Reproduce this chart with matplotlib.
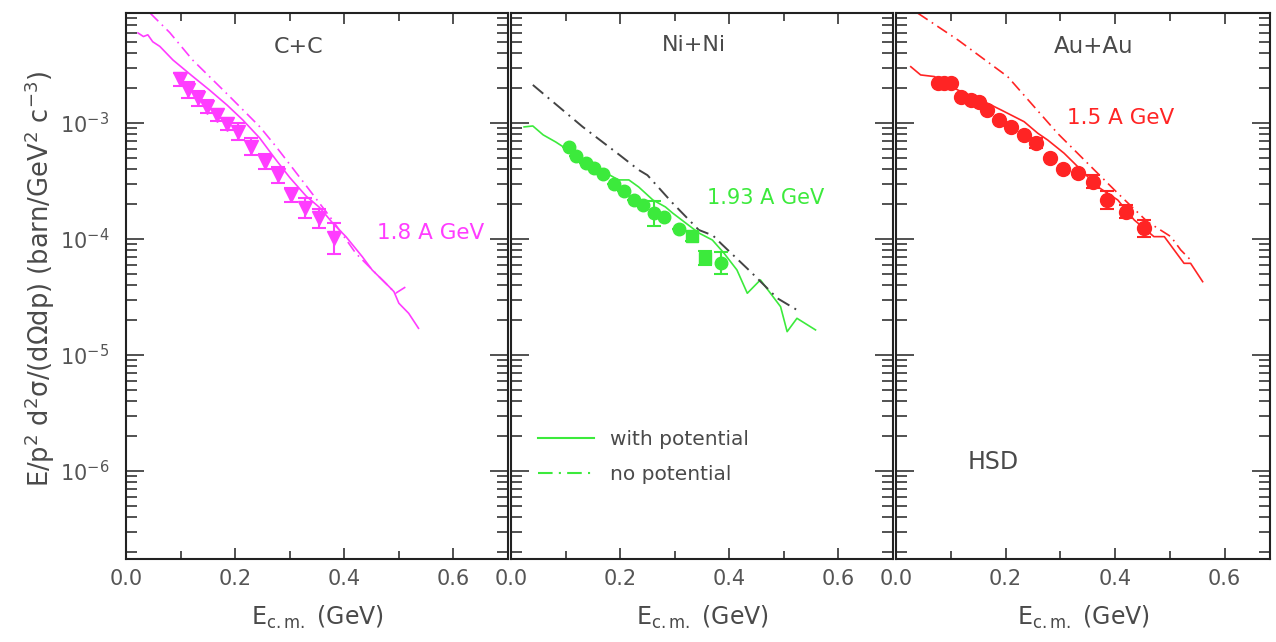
import numpy as np
import matplotlib
matplotlib.use("Agg")
import matplotlib.pyplot as plt
from matplotlib.lines import Line2D
from matplotlib.ticker import LogLocator, MultipleLocator, NullFormatter

# ---- data (log10 of cross section) ----
# C+C 1.8 A GeV
cc_x = [0.0985, 0.1137, 0.132, 0.148, 0.167, 0.185, 0.205, 0.229, 0.254, 0.279, 0.302, 0.328, 0.354, 0.381]
cc_y = [-2.623, -2.716, -2.787, -2.859, -2.931, -3.009, -3.075, -3.204, -3.333, -3.448, -3.621, -3.736, -3.822, -3.994]
cc_lo = [-2.681, -2.782, -2.853, -2.916, -2.980, -3.060, -3.147, -3.276, -3.397, -3.520, -3.678, -3.822, -3.902, -4.129]
cc_pot_x = [0.022, 0.032, 0.040, 0.049, 0.062, 0.086, 0.120, 0.153, 0.185, 0.214, 0.245, 0.275, 0.300,
            0.330, 0.355, 0.380, 0.403, 0.433, 0.451, 0.476, 0.491, 0.500, 0.518, 0.536]
cc_pot_y = [-2.224, -2.255, -2.240, -2.300, -2.340, -2.457, -2.590, -2.716, -2.845, -2.974, -3.130, -3.319, -3.470,
            -3.630, -3.730, -3.870, -3.980, -4.153, -4.267, -4.382, -4.454, -4.554, -4.641, -4.770]
cc_nopot_x = [0.044, 0.080, 0.122, 0.184, 0.245, 0.275, 0.330, 0.378, 0.421, 0.494, 0.518]
cc_nopot_y = [-2.052, -2.220, -2.457, -2.744, -3.032, -3.204, -3.540, -3.836, -4.123, -4.468, -4.397]

# Ni+Ni 1.93 A GeV
ni_x = [0.107, 0.120, 0.137, 0.152, 0.168, 0.189, 0.207, 0.225, 0.241, 0.262, 0.281, 0.308, 0.384]
ni_y = [-3.204, -3.284, -3.348, -3.391, -3.440, -3.526, -3.586, -3.664, -3.707, -3.779, -3.810, -3.916, -4.209]
ni_err = [0, 0, 0, 0, 0, 0, 0, 0, 0, 0.109, 0, 0, 0.095]
ni_sq_x = [0.332, 0.356]
ni_sq_y = [-3.974, -4.166]
ni_sq_err = [0.04, 0.06]
ni_pot_x = [0.024, 0.040, 0.059, 0.082, 0.113, 0.150, 0.174, 0.197, 0.216, 0.234, 0.260, 0.283, 0.296,
            0.320, 0.344, 0.369, 0.390, 0.414, 0.433, 0.457, 0.494, 0.506, 0.524, 0.558]
ni_pot_y = [-3.034, -3.026, -3.103, -3.164, -3.259, -3.379, -3.431, -3.491, -3.491, -3.552, -3.664, -3.724, -3.776,
            -3.862, -3.948, -4.009, -4.121, -4.267, -4.468, -4.353, -4.584, -4.799, -4.684, -4.784]
ni_nopot_x = [0.040, 0.131, 0.200, 0.234, 0.250, 0.296, 0.344, 0.370, 0.385, 0.439, 0.488, 0.524]
ni_nopot_y = [-2.672, -3.032, -3.280, -3.405, -3.450, -3.690, -3.922, -3.970, -4.040, -4.282, -4.511, -4.612]

# Au+Au 1.5 A GeV
au_x = [0.076, 0.088, 0.100, 0.119, 0.137, 0.152, 0.167, 0.189, 0.210, 0.233, 0.255, 0.282, 0.305,
        0.332, 0.359, 0.386, 0.420, 0.453]
au_y = [-2.658, -2.658, -2.658, -2.773, -2.802, -2.816, -2.888, -2.974, -3.032, -3.103, -3.175, -3.304, -3.399,
        -3.434, -3.506, -3.664, -3.765, -3.908]
au_err = [0, 0, 0, 0, 0, 0, 0, 0, 0, 0, 0.043, 0, 0, 0, 0.058, 0.08, 0.057, 0.072]
au_pot_x = [0.027, 0.045, 0.070, 0.113, 0.161, 0.192, 0.234, 0.259, 0.277, 0.307, 0.338, 0.368, 0.405,
            0.435, 0.471, 0.490, 0.526, 0.538, 0.560]
au_pot_y = [-2.515, -2.586, -2.600, -2.716, -2.816, -2.888, -2.989, -3.089, -3.147, -3.261, -3.405, -3.549, -3.664,
            -3.836, -3.980, -3.980, -4.210, -4.210, -4.368]
au_nopot_x = [0.040, 0.113, 0.204, 0.295, 0.356, 0.405, 0.459, 0.502, 0.520, 0.538]
au_nopot_y = [-2.054, -2.284, -2.601, -3.089, -3.376, -3.606, -3.851, -3.980, -4.095, -4.181]

MAG = "#ff3cff"
GRN = "#3cea3c"
RED = "#ff2424"
TXT = "#4a4a4a"
DD = (0, (7, 3, 1, 3))

plt.rcParams['font.family'] = ['DejaVu Sans']
fig = plt.figure(figsize=(12.76, 6.42), dpi=100)

W = 1276.0
H = 642.0
bot = (H - 559) / H
hgt = 546 / H
ax1 = fig.add_axes([126 / W, bot, 382 / W, hgt])
ax2 = fig.add_axes([511 / W, bot, 382 / W, hgt])
ax3 = fig.add_axes([896 / W, bot, 374 / W, hgt])
xmaxs = [0.70, 0.70, 0.683]

def p(v):
    return 10 ** np.array(v, dtype=float)

for ax, xm in zip([ax1, ax2, ax3], xmaxs):
    ax.set_yscale('log')
    ax.set_xlim(0, xm)
    ax.set_ylim(10 ** -6.759, 10 ** -2.052)
    ax.xaxis.set_major_locator(MultipleLocator(0.2))
    ax.xaxis.set_minor_locator(MultipleLocator(0.1))
    ax.yaxis.set_major_locator(LogLocator(base=10))
    ax.yaxis.set_minor_locator(LogLocator(base=10, subs=np.arange(2, 10)))
    ax.yaxis.set_minor_formatter(NullFormatter())
    ax.tick_params(which='both', direction='in', top=True, right=True, width=1.1,
                   colors='#222222', labelcolor='#555555', labelsize=15)
    ax.tick_params(axis='x', which='major', length=8, pad=7)
    ax.tick_params(axis='x', which='minor', length=5.5)
    ax.tick_params(axis='y', which='major', length=13, pad=12)
    ax.tick_params(axis='y', which='minor', length=8)
    for s in ax.spines.values():
        s.set_linewidth(1.5)
        s.set_color('#222222')
    ax.xaxis.set_major_formatter(matplotlib.ticker.FormatStrFormatter('%.1f'))
    ax.set_xlabel(r'E$_{\rm c.m.}$ (GeV)', fontsize=17, color=TXT, labelpad=11)

for ax in [ax2, ax3]:
    ax.tick_params(axis='y', labelleft=False)

ax1.set_ylabel('E/p$^2$ d$^2$σ/(dΩdp) (barn/GeV$^2$ c$^{-3}$)', fontsize=18.5, color=TXT)
ax1.yaxis.set_label_coords(-0.18, 0.513)

# C+C
ax1.plot(cc_pot_x, p(cc_pot_y), color=MAG, lw=1.2)
ax1.plot(cc_nopot_x, p(cc_nopot_y), color=MAG, lw=1.2, ls=DD)
cy = np.array(cc_y)
clo = np.array(cc_lo)
ax1.errorbar(cc_x, p(cc_y), yerr=[p(cy) - p(clo), p(2 * cy - clo) - p(cy)], fmt='v', color=MAG,
             ms=10, capsize=5, elinewidth=1.5, capthick=1.5)
ax1.text(0.316, p(-2.345), 'C+C', ha='center', va='center', fontsize=16, color=TXT)
ax1.text(0.46, p(-3.95), '1.8 A GeV', ha='left', va='center', fontsize=15.5, color=MAG)

# Ni+Ni
ax2.plot(ni_pot_x, p(ni_pot_y), color=GRN, lw=1.2)
ax2.plot(ni_nopot_x, p(ni_nopot_y), color='#444444', lw=1.4, ls=DD)
ny = np.array(ni_y)
ne = np.array(ni_err)
ax2.errorbar(ni_x, p(ny), yerr=[p(ny) - p(ny - ne), p(ny + ne) - p(ny)], fmt='o', color=GRN,
             ms=9, capsize=5, elinewidth=1.5, capthick=1.5)
sy = np.array(ni_sq_y)
se = np.array(ni_sq_err)
ax2.errorbar(ni_sq_x, p(sy), yerr=[p(sy) - p(sy - se), p(sy + se) - p(sy)], fmt='s', color=GRN,
             ms=9, capsize=5, elinewidth=1.5, capthick=1.5)
ax2.text(0.335, p(-2.328), 'Ni+Ni', ha='center', va='center', fontsize=16, color=TXT)
ax2.text(0.36, p(-3.647), '1.93 A GeV', ha='left', va='center', fontsize=15, color=GRN)
handles = [Line2D([], [], color=GRN, lw=1.5), Line2D([], [], color=GRN, lw=1.5, ls=DD)]
ax2.legend(handles, ['with potential', 'no potential'], loc='upper left', bbox_to_anchor=(0.07, 0.236),
           frameon=False, fontsize=14.5, handlelength=2.8, handletextpad=0.8, labelspacing=0.78,
           borderpad=0, borderaxespad=0, labelcolor=TXT)

# Au+Au
ax3.plot(au_pot_x, p(au_pot_y), color=RED, lw=1.2)
ax3.plot(au_nopot_x, p(au_nopot_y), color=RED, lw=1.2, ls=DD)
ay = np.array(au_y)
ae = np.array(au_err)
ax3.errorbar(au_x, p(ay), yerr=[p(ay) - p(ay - ae), p(ay + ae) - p(ay)], fmt='o', color=RED,
             ms=10, capsize=5, elinewidth=1.5, capthick=1.5)
ax3.text(0.36, p(-2.342), 'Au+Au', ha='center', va='center', fontsize=16.5, color=TXT)
ax3.text(0.312, p(-2.96), '1.5 A GeV', ha='left', va='center', fontsize=15.5, color=RED)
ax3.text(0.13, p(-5.92), 'HSD', ha='left', va='center', fontsize=17, color=TXT)

fig.savefig('out.png', dpi=100)
